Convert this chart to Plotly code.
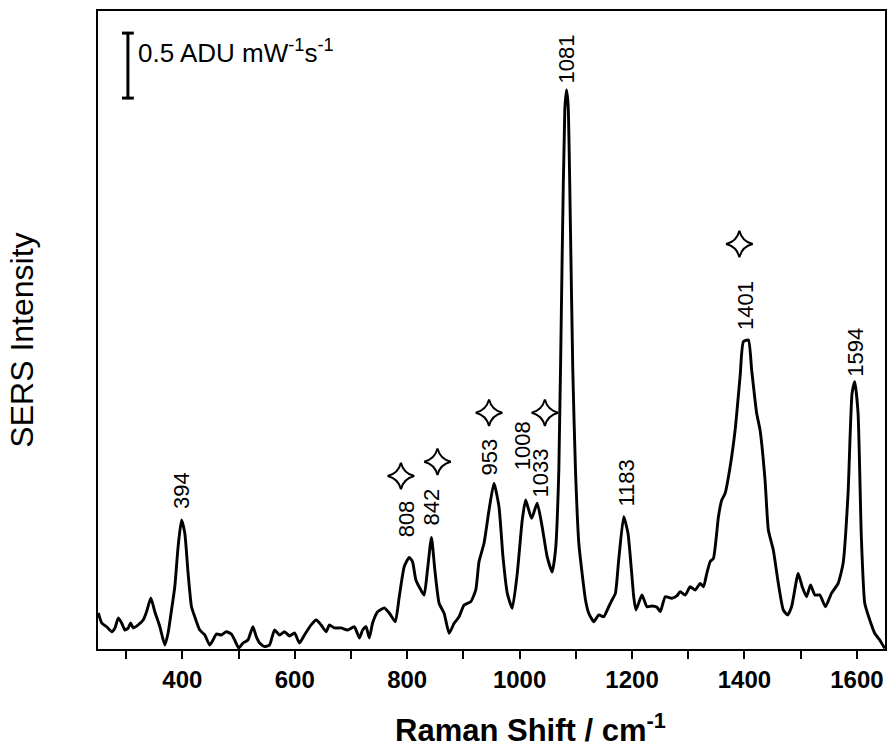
import plotly.graph_objects as go

# Raman shift (cm^-1) and SERS intensity (ADU mW^-1 s^-1, arbitrary baseline)
shift = [250.5, 256.6, 265.4, 274.3, 280.2, 286.0, 292.1, 297.9, 303.8, 308.0, 312.6, 321.5,
         330.4, 336.4, 344.0, 351.1, 360.0, 368.9, 374.7, 380.8, 386.6, 392.5, 398.5, 404.4,
         410.2, 416.3, 422.1, 431.0, 439.9, 448.7, 454.6, 460.6, 469.5, 478.4, 487.2, 493.1,
         500.2, 507.8, 516.7, 525.6, 531.6, 537.5, 546.3, 555.2, 564.1, 572.9, 581.8, 590.7,
         599.6, 608.4, 617.3, 629.2, 638.1, 646.9, 655.8, 661.7, 670.5, 682.4, 694.1, 706.0,
         714.9, 720.8, 726.8, 732.6, 738.5, 747.4, 759.3, 768.1, 778.8, 785.9, 794.7, 803.6,
         809.5, 815.5, 824.4, 830.2, 836.1, 843.2, 849.2, 856.8, 865.7, 874.6, 883.5, 892.3,
         901.2, 913.1, 922.0, 927.8, 936.7, 945.6, 954.4, 963.3, 970.4, 978.1, 986.9, 995.8,
         1004.7, 1010.7, 1021.3, 1031.3, 1040.1, 1049.0, 1057.9, 1063.9, 1069.8, 1075.6, 1080.4,
         1083.4, 1086.3, 1090.5, 1094.6, 1099.4, 1105.3, 1111.1, 1117.2, 1123.0, 1131.9, 1140.8,
         1149.6, 1158.5, 1164.4, 1170.4, 1176.3, 1185.2, 1192.8, 1198.9, 1203.0, 1207.0, 1217.6,
         1226.5, 1235.4, 1244.3, 1250.3, 1259.1, 1270.9, 1279.7, 1285.7, 1294.6, 1303.5, 1312.4,
         1321.2, 1327.1, 1333.0, 1339.0, 1344.8, 1353.7, 1359.6, 1365.6, 1374.5, 1383.4, 1392.2,
         1398.1, 1407.0, 1412.8, 1421.7, 1427.7, 1436.6, 1442.5, 1451.3, 1460.2, 1469.1, 1476.7,
         1483.8, 1495.6, 1502.7, 1510.4, 1517.5, 1525.3, 1534.1, 1544.1, 1554.7, 1566.6, 1575.5,
         1584.3, 1591.4, 1596.2, 1602.1, 1607.9, 1614.0, 1622.9, 1631.7, 1640.6, 1649.5]
intensity = [0.277, 0.200, 0.171, 0.133, 0.162, 0.238, 0.200, 0.146, 0.162, 0.200, 0.162, 0.185,
             0.223, 0.287, 0.392, 0.287, 0.172, 0.031, 0.123, 0.300, 0.479, 0.787, 0.992, 0.892,
             0.585, 0.325, 0.248, 0.146, 0.108, 0.031, 0.069, 0.115, 0.108, 0.133, 0.115, 0.069,
             0.008, 0.046, 0.069, 0.172, 0.095, 0.046, 0.018, 0.031, 0.146, 0.108, 0.133, 0.100,
             0.123, 0.046, 0.108, 0.185, 0.223, 0.185, 0.133, 0.185, 0.162, 0.162, 0.146, 0.172,
             0.085, 0.146, 0.172, 0.085, 0.200, 0.287, 0.315, 0.277, 0.210, 0.402, 0.633, 0.705,
             0.672, 0.531, 0.454, 0.415, 0.608, 0.859, 0.608, 0.352, 0.275, 0.121, 0.198, 0.248,
             0.338, 0.364, 0.454, 0.672, 0.813, 1.069, 1.275, 1.095, 0.710, 0.428, 0.313, 0.582,
             0.992, 1.146, 1.005, 1.121, 0.941, 0.710, 0.592, 0.762, 1.377, 2.992, 4.146,
             4.300, 4.185, 3.223, 2.146, 1.377, 0.815, 0.585, 0.377, 0.275, 0.210, 0.262,
             0.248, 0.325, 0.377, 0.428, 0.685, 1.018, 0.890, 0.608, 0.402, 0.300, 0.415,
             0.325, 0.331, 0.321, 0.287, 0.402, 0.390, 0.408, 0.441, 0.415, 0.479, 0.454,
             0.505, 0.479, 0.582, 0.672, 0.698, 1.018, 1.146, 1.198, 1.402, 1.685, 2.095,
             2.364, 2.377, 2.146, 1.813, 1.685, 1.300, 0.915, 0.762, 0.505, 0.300, 0.262,
             0.325, 0.582, 0.479, 0.402, 0.492, 0.415, 0.415, 0.325, 0.428, 0.505, 0.659,
             1.198, 1.967, 2.056, 1.813, 0.864, 0.352, 0.223, 0.121, 0.069, 0.005]

# peak labels
peak_labels = ["394", "808", "842", "953", "1008", "1033", "1081", "1183", "1401", "1594"]
peak_label_x = [399.0, 798.0, 843.5, 946.5, 1005.0, 1037.0, 1084.0, 1190.0, 1402.0, 1596.0]
peak_label_y = [1.063, 0.840, 0.935, 1.320, 1.360, 1.150, 4.338, 1.080, 2.440, 2.080]

# star-marked bands
star_x = [788.9, 853.9, 945.6, 1045.0, 1391.0]
star_y = [1.331, 1.441, 1.818, 1.818, 3.115]

# intensity scale bar
scale_value = 0.5
scale_top = 4.738
scale_x = 303.2
scale_label = "0.5 ADU mW<sup>-1</sup>s<sup>-1</sup>"

FONT = "Arial, Liberation Sans, sans-serif"

fig = go.Figure()
fig.add_trace(go.Scatter(x=shift, y=intensity, mode="lines",
                         line=dict(color="black", width=2.9, shape="spline", smoothing=0.5),
                         hoverinfo="skip", showlegend=False))
fig.add_trace(go.Scatter(x=star_x, y=star_y, mode="markers",
                         marker=dict(symbol="star-diamond-open", size=19,
                                     color="black", line=dict(color="black", width=2)),
                         showlegend=False, hoverinfo="skip"))

for t, x, y in zip(peak_labels, peak_label_x, peak_label_y):
    fig.add_annotation(x=x, y=y, xref="x", yref="y", text=t, textangle=-90,
                       showarrow=False, xanchor="center", yanchor="bottom",
                       font=dict(family=FONT, size=22, color="black"))

# scale bar
bottom = scale_top - scale_value
fig.add_shape(type="line", x0=scale_x, x1=scale_x, y0=bottom, y1=scale_top,
              xref="x", yref="y", line=dict(color="black", width=3))
for yy in (bottom, scale_top):
    fig.add_shape(type="line", x0=scale_x - 10.5, x1=scale_x + 10.5, y0=yy, y1=yy,
                  xref="x", yref="y", line=dict(color="black", width=3))
fig.add_annotation(x=scale_x + 14, y=scale_top - 0.14, xref="x", yref="y",
                   text=scale_label, showarrow=False, xanchor="left", yanchor="middle",
                   font=dict(family=FONT, size=26, color="black"))

# axis titles
fig.add_annotation(x=0.55, y=-0.09, xref="paper", yref="paper",
                   text="<b>Raman Shift / cm<sup>-1</sup></b>", showarrow=False,
                   xanchor="center", yanchor="top",
                   font=dict(family=FONT, size=31, color="black"))
fig.add_annotation(x=-0.096, y=0.484, xref="paper", yref="paper",
                   text="SERS Intensity", textangle=-90, showarrow=False,
                   xanchor="center", yanchor="middle",
                   font=dict(family=FONT, size=32, color="black"))

fig.update_layout(
    width=890, height=755,
    margin=dict(l=98, r=3, t=11, b=106),
    paper_bgcolor="white", plot_bgcolor="white",
    font=dict(family=FONT, color="black"),
    xaxis=dict(range=[250, 1650], showgrid=False, zeroline=False,
               showline=True, linecolor="black", linewidth=2, mirror=True,
               tickmode="linear", tick0=400, dtick=200,
               ticks="outside", ticklen=8, tickwidth=2, tickcolor="black",
               minor=dict(ticks="outside", ticklen=8, tickwidth=2, tickcolor="black",
                          tick0=300, dtick=200),
               tickfont=dict(family=FONT, size=24, color="black", weight="bold")),
    yaxis=dict(range=[0, 4.908], showgrid=False, zeroline=False,
               showline=True, linecolor="black", linewidth=2, mirror=True,
               showticklabels=False, ticks=""),
)

fig.write_html("out.html")
